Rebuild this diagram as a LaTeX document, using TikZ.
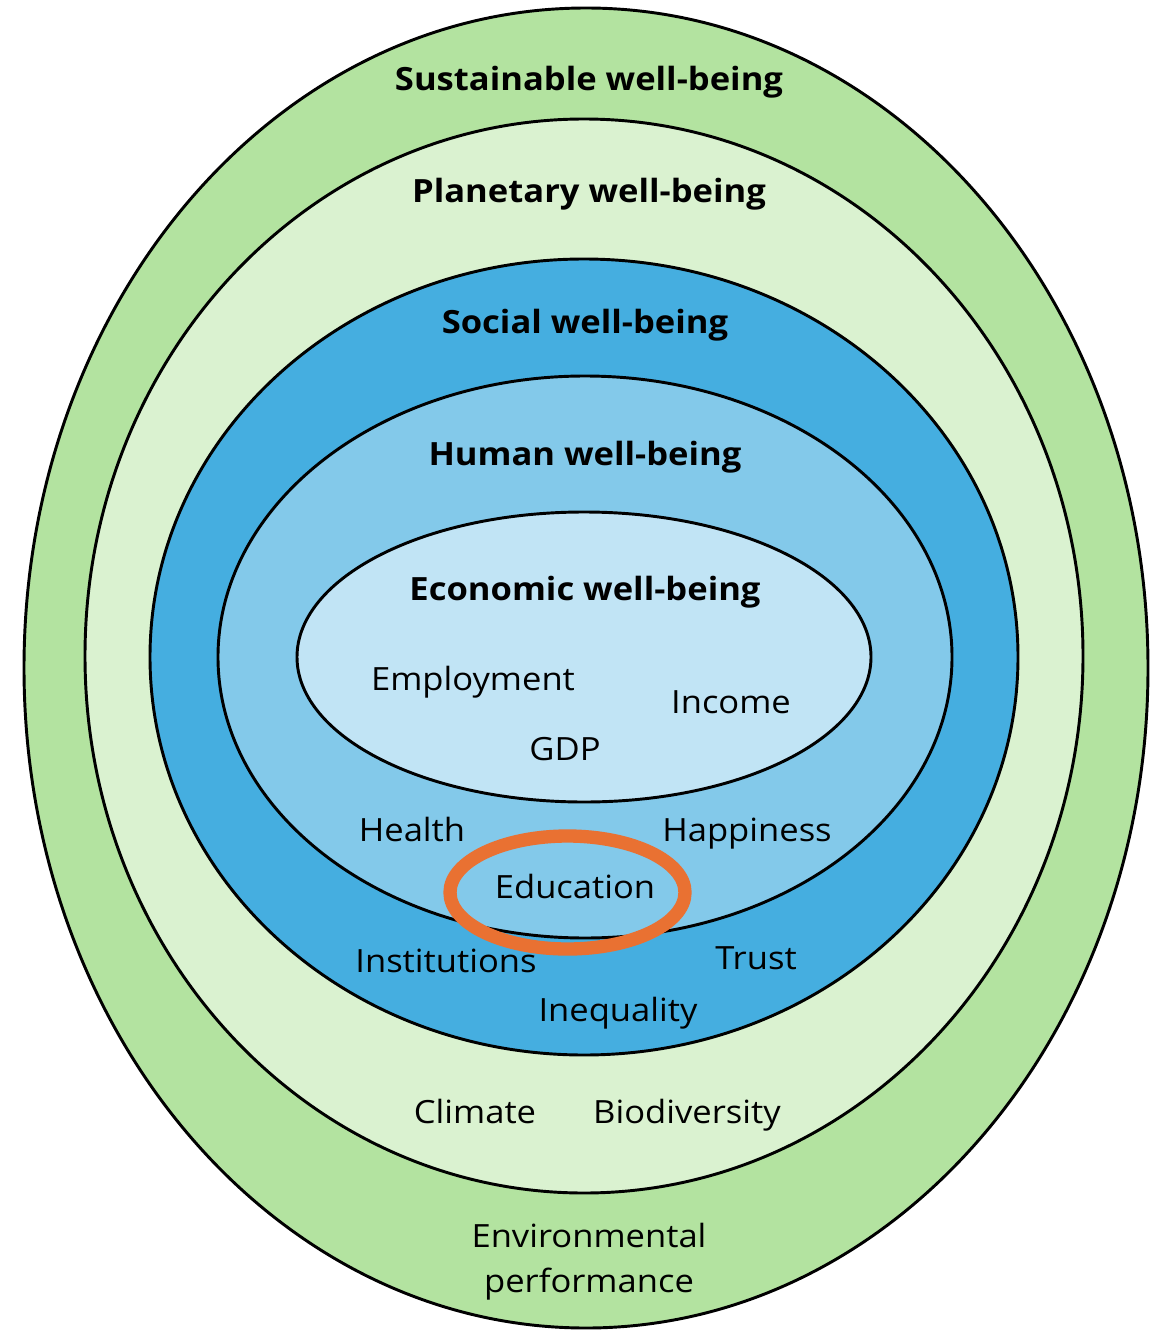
\documentclass[tikz,border=0pt]{standalone}
\usepackage{fontspec}
\setmainfont{Open Sans}[FakeStretch=1.08]
\definecolor{sustgreen}{HTML}{B3E3A0}
\definecolor{planetgreen}{HTML}{DAF2D0}
\definecolor{socialblue}{HTML}{45AEE0}
\definecolor{humanblue}{HTML}{83C9EA}
\definecolor{econblue}{HTML}{C1E4F5}
\definecolor{edorange}{HTML}{E97132}
\begin{document}
\begin{tikzpicture}[x=0.75pt,y=-0.75pt,
  ring/.style={draw=black,line width=2.2pt},
  title/.style={font=\fontsize{24}{28}\selectfont\bfseries,anchor=base,inner sep=0pt},
  item/.style={font=\fontsize{24}{28}\selectfont,anchor=base,inner sep=0pt}]
\useasboundingbox (0,0) rectangle (1150,1331);
\fill[white] (0,0) rectangle (1150,1331);
% rings
\filldraw[ring,fill=sustgreen] (586,668) ellipse [x radius=562,y radius=660];
\filldraw[ring,fill=planetgreen] (584,656) ellipse [x radius=499,y radius=537];
\filldraw[ring,fill=socialblue] (584,657) ellipse [x radius=434,y radius=398];
\filldraw[ring,fill=humanblue] (585,657) ellipse [x radius=367,y radius=281];
\filldraw[ring,fill=econblue] (584,657) ellipse [x radius=287,y radius=145];
% highlight
\draw[edorange,line width=10pt] (567.5,892.5) ellipse [x radius=117.5,y radius=56.5];
% titles
\node[title] (sust) at (589,90) {Sustainable well-being};
\node[title] (plan) at (589,202) {Planetary well-being};
\node[title] (soc) at (585,333) {Social well-being};
\node[title] (hum) at (585,465) {Human well-being};
\node[title] (eco) at (585,600) {Economic well-being};
% items
\node[item] (employment) at (473,690) {Employment};
\node[item] (income) at (731,713) {Income};
\node[item] (gdp) at (565,760) {GDP};
\node[item] (health) at (412,841) {Health};
\node[item] (happiness) at (747,841) {Happiness};
\node[item] (education) at (575,898) {Education};
\node[item] (institutions) at (446,972) {Institutions};
\node[item] (trust) at (756,969) {Trust};
\node[item] (inequality) at (618,1021) {Inequality};
\node[item] (climate) at (475,1123) {Climate};
\node[item] (biodiversity) at (687,1123) {Biodiversity};
\node[item] (env) at (589,1247) {Environmental};
\node[item] (perf) at (589,1292) {performance};
\end{tikzpicture}
\end{document}
